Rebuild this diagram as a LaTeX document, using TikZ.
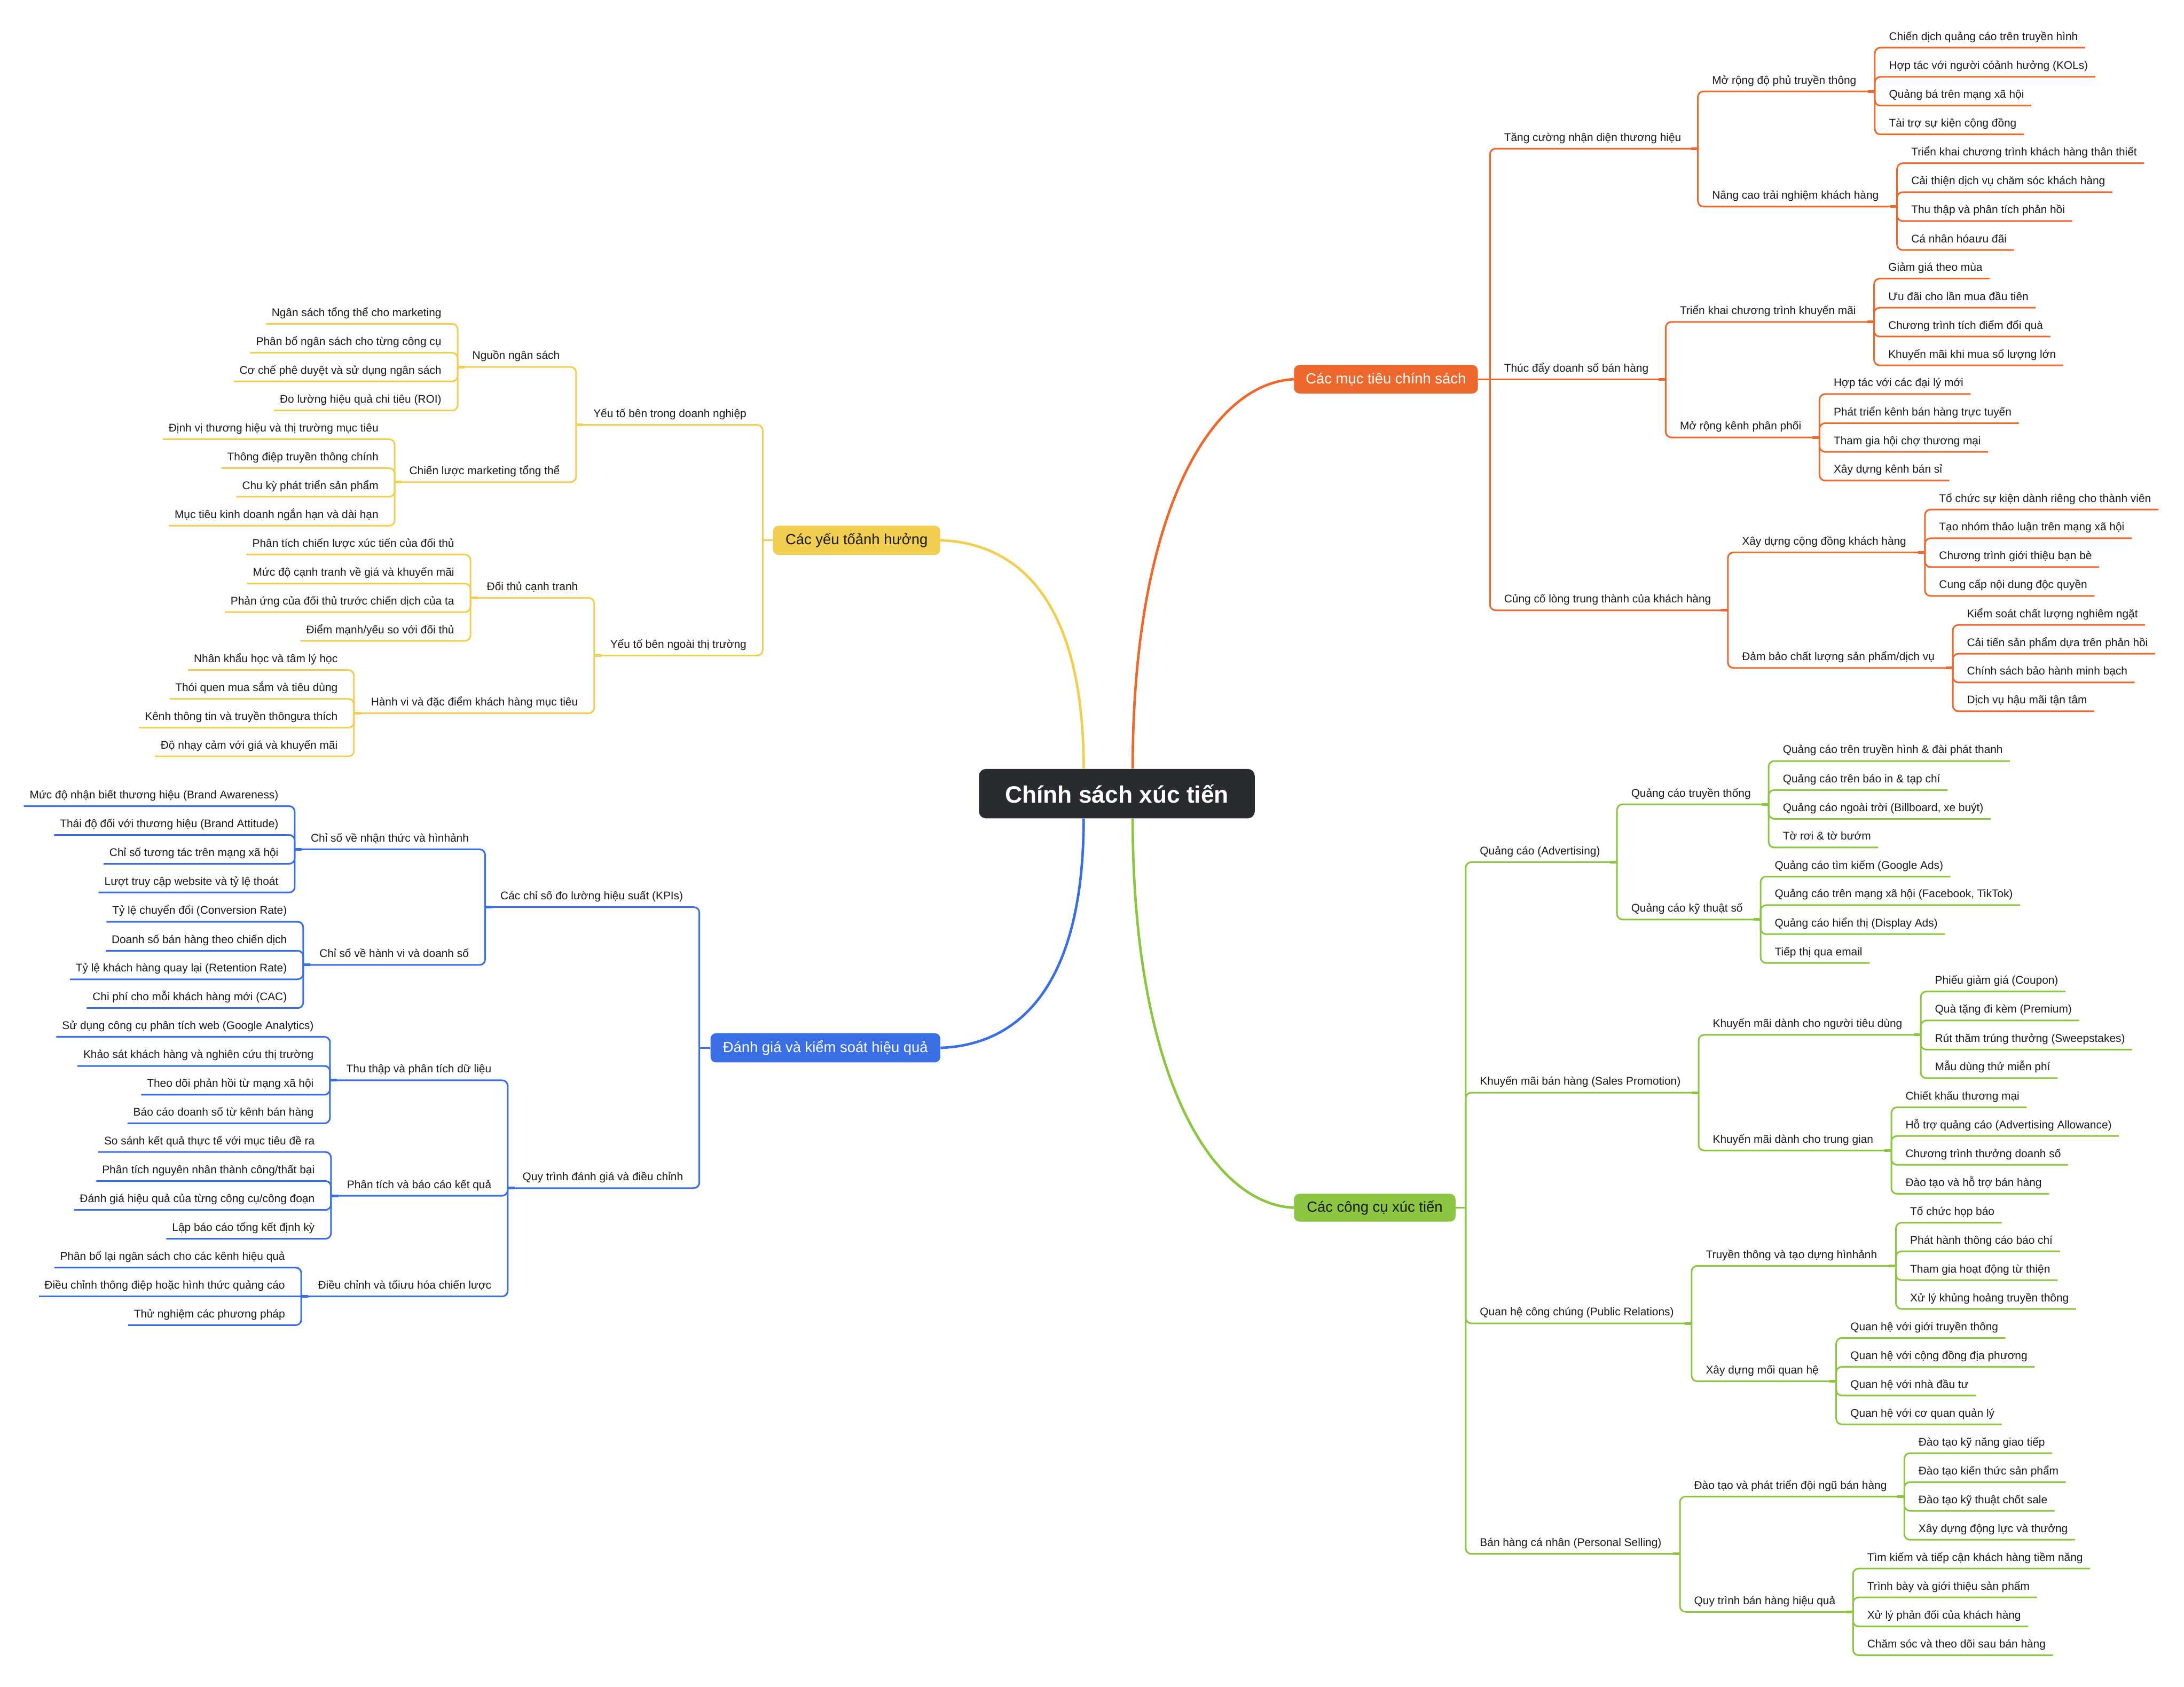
\documentclass[tikz,border=0pt]{standalone}
\usepackage{fontspec}
\setmainfont{Liberation Sans}
\setsansfont{Liberation Sans}
\usetikzlibrary{calc}
\definecolor{cor}{RGB}{238,104,46}
\definecolor{cye}{RGB}{242,206,80}
\definecolor{cbl}{RGB}{58,110,229}
\definecolor{cgr}{RGB}{140,197,64}
\definecolor{croot}{RGB}{42,43,47}
\definecolor{ctx}{RGB}{25,25,25}
\tikzset{
  lbl/.style={font=\fontsize{8}{9.6}\selectfont, inner sep=0pt, text=ctx},
  ul/.style={line width=1.15pt, rounded corners=4pt},
  knob/.style={line width=1.9pt},
  curve/.style={line width=1.8pt},
  box/.style={rounded corners=4pt, inner sep=0pt, font=\fontsize{10.5}{12}\selectfont},
}
% right-side parent: name, colour, parent junction, text x, y, end x, text
\newcommand\mmRP[7]{%
  \node[lbl, anchor=base west] (#1) at (#4,#5-5.4) {#7};
  \coordinate (#1-j) at (#6,#5);
  \draw[ul, draw=#2] (#3) |- (#1-j);
  \draw[knob, draw=#2] ([xshift=-5pt]#1-j) -- (#1-j);
}
% right-side leaf: name, colour, parent junction, text x, y, text
\newcommand\mmRL[6]{%
  \node[lbl, anchor=base west] (#1) at (#4,#5-5.4) {#6};
  \draw[ul, draw=#2] (#3) |- ([shift={(5pt,-5.4pt)}]#1.base east);
}
% left-side parent: name, colour, parent junction, text right x, y, left end x, text
\newcommand\mmLP[7]{%
  \node[lbl, anchor=base east] (#1) at (#4,#5-5.4) {#7};
  \coordinate (#1-j) at (#6,#5);
  \draw[ul, draw=#2] (#3) |- (#1-j);
  \draw[knob, draw=#2] ([xshift=5pt]#1-j) -- (#1-j);
}
% left-side leaf: name, colour, parent junction, text right x, y, text
\newcommand\mmLL[6]{%
  \node[lbl, anchor=base east] (#1) at (#4,#5-5.4) {#6};
  \draw[ul, draw=#2] (#3) |- ([shift={(-4pt,-5.4pt)}]#1.base west);
}
\begin{document}
\begin{tikzpicture}[x=1pt,y=-1pt]
\fill[white] (0,0) rectangle (1568,1211);
\useasboundingbox (0,0) rectangle (1568,1211);

% ---------- boxes ----------
\node[box, fill=croot, text=white, minimum width=198pt, minimum height=35.5pt,
      rounded corners=5pt, font=\fontsize{17}{20}\selectfont\bfseries] (root) at (801.85,569.75) {Chính sách xúc tiến};
\node[box, fill=cor, text=white, minimum width=132pt, minimum height=20.5pt] (ob) at (995,272.25) {Các mục tiêu chính sách};
\node[box, fill=cye, text=ctx, minimum width=120pt, minimum height=21pt] (yb) at (615,387.85) {Các yếu tốảnh hưởng};
\node[box, fill=cbl, text=white, minimum width=165pt, minimum height=21pt] (bb) at (592.6,752.2) {Đánh giá và kiểm soát hiệu quả};
\node[box, fill=cgr, text=ctx, minimum width=116pt, minimum height=20pt] (gb) at (987,867) {Các công cụ xúc tiến};

% ---------- main curves ----------
\draw[curve, draw=cye] (yb.east) .. controls +(55,2) and +(0,-122) .. ([xshift=-23.85pt]root.north);
\draw[curve, draw=cor] (ob.west) .. controls +(-61,3) and +(0,-180) .. ([xshift=11.35pt]root.north);
\draw[curve, draw=cbl] (bb.east) .. controls +(55,-2) and +(0,122) .. ([xshift=-23.85pt]root.south);
\draw[curve, draw=cgr] (gb.west) .. controls +(-61,-3) and +(0,180) .. ([xshift=11.35pt]root.south);

% ================= ORANGE =================
\coordinate (oj) at (1069.7,272.25);
\draw[ul, draw=cor] (ob.east) -- (oj);
\mmRP{o1}{cor}{oj}{1079.7}{106.7}{1219}{Tăng cường nhận diện thương hiệu}
\mmRP{o11}{cor}{o1-j}{1229}{65.6}{1346}{Mở rộng độ phủ truyền thông}
\mmRL{o111}{cor}{o11-j}{1356}{34.2}{Chiến dịch quảng cáo trên truyền hình}
\mmRL{o112}{cor}{o11-j}{1356}{55.2}{Hợp tác với người cóảnh hưởng (KOLs)}
\mmRL{o113}{cor}{o11-j}{1356}{75.8}{Quảng bá trên mạng xã hội}
\mmRL{o114}{cor}{o11-j}{1356}{96.5}{Tài trợ sự kiện cộng đồng}
\mmRP{o12}{cor}{o1-j}{1229}{148.3}{1362}{Nâng cao trải nghiệm khách hàng}
\mmRL{o121}{cor}{o12-j}{1372}{117.2}{Triển khai chương trình khách hàng thân thiết}
\mmRL{o122}{cor}{o12-j}{1372}{138}{Cải thiện dịch vụ chăm sóc khách hàng}
\mmRL{o123}{cor}{o12-j}{1372}{158.7}{Thu thập và phân tích phản hồi}
\mmRL{o124}{cor}{o12-j}{1372}{179.5}{Cá nhân hóaưu đãi}
% o2 on the same level as the junction
\node[lbl, anchor=base west] (o2) at (1079.7,272.25-5.4) {Thúc đẩy doanh số bán hàng};
\coordinate (o2-j) at (1195.9,272.25);
\draw[ul, draw=cor] (oj) -- (o2-j);
\draw[knob, draw=cor] ([xshift=-5pt]o2-j) -- (o2-j);
\mmRP{o21}{cor}{o2-j}{1205.9}{231.1}{1345.5}{Triển khai chương trình khuyến mãi}
\mmRL{o211}{cor}{o21-j}{1355.5}{200}{Giảm giá theo mùa}
\mmRL{o212}{cor}{o21-j}{1355.5}{220.9}{Ưu đãi cho lần mua đầu tiên}
\mmRL{o213}{cor}{o21-j}{1355.5}{241.6}{Chương trình tích điểm đổi quà}
\mmRL{o214}{cor}{o21-j}{1355.5}{262.3}{Khuyến mãi khi mua số lượng lớn}
\mmRP{o22}{cor}{o2-j}{1205.9}{314}{1306.3}{Mở rộng kênh phân phối}
\mmRL{o221}{cor}{o22-j}{1316.3}{282.9}{Hợp tác với các đại lý mới}
\mmRL{o222}{cor}{o22-j}{1316.3}{303.8}{Phát triển kênh bán hàng trực tuyến}
\mmRL{o223}{cor}{o22-j}{1316.3}{324.4}{Tham gia hội chợ thương mại}
\mmRL{o224}{cor}{o22-j}{1316.3}{345}{Xây dựng kênh bán sỉ}
\mmRP{o3}{cor}{oj}{1079.7}{438.1}{1240.5}{Củng cố lòng trung thành của khách hàng}
\mmRP{o31}{cor}{o3-j}{1250.5}{396.6}{1382}{Xây dựng cộng đồng khách hàng}
\mmRL{o311}{cor}{o31-j}{1392}{365.8}{Tổ chức sự kiện dành riêng cho thành viên}
\mmRL{o312}{cor}{o31-j}{1392}{386.4}{Tạo nhóm thảo luận trên mạng xã hội}
\mmRL{o313}{cor}{o31-j}{1392}{407.1}{Chương trình giới thiệu bạn bè}
\mmRL{o314}{cor}{o31-j}{1392}{427.8}{Cung cấp nội dung độc quyền}
\mmRP{o32}{cor}{o3-j}{1250.5}{479.5}{1402}{Đảm bảo chất lượng sản phẩm/dịch vụ}
\mmRL{o321}{cor}{o32-j}{1412}{448.6}{Kiểm soát chất lượng nghiêm ngặt}
\mmRL{o322}{cor}{o32-j}{1412}{469.3}{Cải tiến sản phẩm dựa trên phản hồi}
\mmRL{o323}{cor}{o32-j}{1412}{489.9}{Chính sách bảo hành minh bạch}
\mmRL{o324}{cor}{o32-j}{1412}{510.6}{Dịch vụ hậu mãi tận tâm}

% ================= GREEN =================
\coordinate (gj) at (1052.3,867);
\draw[ul, draw=cgr] (gb.east) -- (gj);
\mmRP{g1}{cgr}{gj}{1062.3}{618.9}{1160.9}{Quảng cáo (Advertising)}
\mmRP{g11}{cgr}{g1-j}{1170.9}{577.4}{1269.8}{Quảng cáo truyền thống}
\mmRL{g111}{cgr}{g11-j}{1279.8}{546.3}{Quảng cáo trên truyền hình \& đài phát thanh}
\mmRL{g112}{cgr}{g11-j}{1279.8}{567.1}{Quảng cáo trên báo in \& tạp chí}
\mmRL{g113}{cgr}{g11-j}{1279.8}{587.8}{Quảng cáo ngoài trời (Billboard, xe buýt)}
\mmRL{g114}{cgr}{g11-j}{1279.8}{608.4}{Tờ rơi \& tờ bướm}
\mmRP{g12}{cgr}{g1-j}{1170.9}{660.1}{1264}{Quảng cáo kỹ thuật số}
\mmRL{g121}{cgr}{g12-j}{1274}{629.2}{Quảng cáo tìm kiếm (Google Ads)}
\mmRL{g122}{cgr}{g12-j}{1274}{649.8}{Quảng cáo trên mạng xã hội (Facebook, TikTok)}
\mmRL{g123}{cgr}{g12-j}{1274}{670.6}{Quảng cáo hiển thị (Display Ads)}
\mmRL{g124}{cgr}{g12-j}{1274}{691.3}{Tiếp thị qua email}
\mmRP{g2}{cgr}{gj}{1062.3}{784.4}{1219.5}{Khuyến mãi bán hàng (Sales Promotion)}
\mmRP{g21}{cgr}{g2-j}{1229.5}{742.9}{1379}{Khuyến mãi dành cho người tiêu dùng}
\mmRL{g211}{cgr}{g21-j}{1389}{711.8}{Phiếu giảm giá (Coupon)}
\mmRL{g212}{cgr}{g21-j}{1389}{732.6}{Quà tặng đi kèm (Premium)}
\mmRL{g213}{cgr}{g21-j}{1389}{753.5}{Rút thăm trúng thưởng (Sweepstakes)}
\mmRL{g214}{cgr}{g21-j}{1389}{774}{Mẫu dùng thử miễn phí}
\mmRP{g22}{cgr}{g2-j}{1229.5}{825.9}{1357.9}{Khuyến mãi dành cho trung gian}
\mmRL{g221}{cgr}{g22-j}{1367.9}{794.9}{Chiết khấu thương mại}
\mmRL{g222}{cgr}{g22-j}{1367.9}{815.5}{Hỗ trợ quảng cáo (Advertising Allowance)}
\mmRL{g223}{cgr}{g22-j}{1367.9}{836.2}{Chương trình thưởng doanh số}
\mmRL{g224}{cgr}{g22-j}{1367.9}{857}{Đào tạo và hỗ trợ bán hàng}
\mmRP{g3}{cgr}{gj}{1062.3}{950}{1214.5}{Quan hệ công chúng (Public Relations)}
\mmRP{g31}{cgr}{g3-j}{1224.5}{908.7}{1361.2}{Truyền thông và tạo dựng hìnhảnh}
\mmRL{g311}{cgr}{g31-j}{1371.2}{877.7}{Tổ chức họp báo}
\mmRL{g312}{cgr}{g31-j}{1371.2}{898.3}{Phát hành thông cáo báo chí}
\mmRL{g313}{cgr}{g31-j}{1371.2}{919}{Tham gia hoạt động từ thiện}
\mmRL{g314}{cgr}{g31-j}{1371.2}{939.7}{Xử lý khủng hoảng truyền thông}
\mmRP{g32}{cgr}{g3-j}{1224.5}{991.6}{1318.3}{Xây dựng mối quan hệ}
\mmRL{g321}{cgr}{g32-j}{1328.3}{960.5}{Quan hệ với giới truyền thông}
\mmRL{g322}{cgr}{g32-j}{1328.3}{981.2}{Quan hệ với cộng đồng địa phương}
\mmRL{g323}{cgr}{g32-j}{1328.3}{1001.8}{Quan hệ với nhà đầu tư}
\mmRL{g324}{cgr}{g32-j}{1328.3}{1022.5}{Quan hệ với cơ quan quản lý}
\mmRP{g4}{cgr}{gj}{1062.3}{1115.5}{1206.1}{Bán hàng cá nhân (Personal Selling)}
\mmRP{g41}{cgr}{g4-j}{1216.1}{1074.3}{1367.2}{Đào tạo và phát triển đội ngũ bán hàng}
\mmRL{g411}{cgr}{g41-j}{1377.2}{1043.2}{Đào tạo kỹ năng giao tiếp}
\mmRL{g412}{cgr}{g41-j}{1377.2}{1064}{Đào tạo kiến thức sản phẩm}
\mmRL{g413}{cgr}{g41-j}{1377.2}{1084.6}{Đào tạo kỹ thuật chốt sale}
\mmRL{g414}{cgr}{g41-j}{1377.2}{1105.3}{Xây dựng động lực và thưởng}
\mmRP{g42}{cgr}{g4-j}{1216.1}{1157.1}{1330.4}{Quy trình bán hàng hiệu quả}
\mmRL{g421}{cgr}{g42-j}{1340.4}{1126}{Tìm kiếm và tiếp cận khách hàng tiềm năng}
\mmRL{g422}{cgr}{g42-j}{1340.4}{1146.7}{Trình bày và giới thiệu sản phẩm}
\mmRL{g423}{cgr}{g42-j}{1340.4}{1167.6}{Xử lý phản đối của khách hàng}
\mmRL{g424}{cgr}{g42-j}{1340.4}{1188.3}{Chăm sóc và theo dõi sau bán hàng}

% ================= YELLOW =================
\coordinate (yj) at (547.6,387.85);
\draw[ul, draw=cye] (yb.west) -- (yj);
\mmLP{y1}{cye}{yj}{536.1}{305}{413.6}{Yếu tố bên trong doanh nghiệp}
\mmLP{y11}{cye}{y1-j}{402.1}{263.4}{328.6}{Nguồn ngân sách}
\mmLL{y111}{cye}{y11-j}{317.1}{232.5}{Ngân sách tổng thể cho marketing}
\mmLL{y112}{cye}{y11-j}{317.1}{253.2}{Phân bổ ngân sách cho từng công cụ}
\mmLL{y113}{cye}{y11-j}{317.1}{273.8}{Cơ chế phê duyệt và sử dụng ngân sách}
\mmLL{y114}{cye}{y11-j}{317.1}{294.7}{Đo lường hiệu quả chi tiêu (ROI)}
\mmLP{y12}{cye}{y1-j}{402.1}{346.1}{283.4}{Chiến lược marketing tổng thể}
\mmLL{y121}{cye}{y12-j}{271.9}{315.3}{Định vị thương hiệu và thị trường mục tiêu}
\mmLL{y122}{cye}{y12-j}{271.9}{336.1}{Thông điệp truyền thông chính}
\mmLL{y123}{cye}{y12-j}{271.9}{356.6}{Chu kỳ phát triển sản phẩm}
\mmLL{y124}{cye}{y12-j}{271.9}{377.4}{Mục tiêu kinh doanh ngắn hạn và dài hạn}
\mmLP{y2}{cye}{yj}{536.1}{470.6}{426.6}{Yếu tố bên ngoài thị trường}
\mmLP{y21}{cye}{y2-j}{415.1}{429.2}{337.8}{Đối thủ cạnh tranh}
\mmLL{y211}{cye}{y21-j}{326.3}{398.1}{Phân tích chiến lược xúc tiến của đối thủ}
\mmLL{y212}{cye}{y21-j}{326.3}{419}{Mức độ cạnh tranh về giá và khuyến mãi}
\mmLL{y213}{cye}{y21-j}{326.3}{439.4}{Phản ứng của đối thủ trước chiến dịch của ta}
\mmLL{y214}{cye}{y21-j}{326.3}{460.1}{Điểm mạnh/yếu so với đối thủ}
\mmLP{y22}{cye}{y2-j}{415.1}{512}{254.1}{Hành vi và đặc điểm khách hàng mục tiêu}
\mmLL{y221}{cye}{y22-j}{242.6}{481}{Nhân khẩu học và tâm lý học}
\mmLL{y222}{cye}{y22-j}{242.6}{501.7}{Thói quen mua sắm và tiêu dùng}
\mmLL{y223}{cye}{y22-j}{242.6}{522.4}{Kênh thông tin và truyền thôngưa thích}
\mmLL{y224}{cye}{y22-j}{242.6}{543}{Độ nhạy cảm với giá và khuyến mãi}

% ================= BLUE =================
\coordinate (bj) at (502.1,752.2);
\draw[ul, draw=cbl] (bb.west) -- (bj);
\mmLP{b1}{cbl}{bj}{490.6}{651.2}{348.3}{Các chỉ số đo lường hiệu suất (KPIs)}
\mmLP{b11}{cbl}{b1-j}{336.8}{609.7}{211.6}{Chỉ số về nhận thức và hìnhảnh}
\mmLL{b111}{cbl}{b11-j}{200.1}{578.7}{Mức độ nhận biết thương hiệu (Brand Awareness)}
\mmLL{b112}{cbl}{b11-j}{200.1}{599.4}{Thái độ đối với thương hiệu (Brand Attitude)}
\mmLL{b113}{cbl}{b11-j}{200.1}{620.1}{Chỉ số tương tác trên mạng xã hội}
\mmLL{b114}{cbl}{b11-j}{200.1}{640.7}{Lượt truy cập website và tỷ lệ thoát}
\mmLP{b12}{cbl}{b1-j}{336.8}{692.7}{217.7}{Chỉ số về hành vi và doanh số}
\mmLL{b121}{cbl}{b12-j}{206.2}{661.7}{Tỷ lệ chuyển đổi (Conversion Rate)}
\mmLL{b122}{cbl}{b12-j}{206.2}{682.5}{Doanh số bán hàng theo chiến dịch}
\mmLL{b123}{cbl}{b12-j}{206.2}{703}{Tỷ lệ khách hàng quay lại (Retention Rate)}
\mmLL{b124}{cbl}{b12-j}{206.2}{723.7}{Chi phí cho mỗi khách hàng mới (CAC)}
\mmLP{b2}{cbl}{bj}{490.6}{852.9}{364.5}{Quy trình đánh giá và điều chỉnh}
\mmLP{b21}{cbl}{b2-j}{353}{775.5}{236.9}{Thu thập và phân tích dữ liệu}
\mmLL{b211}{cbl}{b21-j}{225.4}{744.3}{Sử dụng công cụ phân tích web (Google Analytics)}
\mmLL{b212}{cbl}{b21-j}{225.4}{765.2}{Khảo sát khách hàng và nghiên cứu thị trường}
\mmLL{b213}{cbl}{b21-j}{225.4}{785.9}{Theo dõi phản hồi từ mạng xã hội}
\mmLL{b214}{cbl}{b21-j}{225.4}{806.4}{Báo cáo doanh số từ kênh bán hàng}
\mmLP{b22}{cbl}{b2-j}{353}{858.4}{237.6}{Phân tích và báo cáo kết quả}
\mmLL{b221}{cbl}{b22-j}{226.1}{827}{So sánh kết quả thực tế với mục tiêu đề ra}
\mmLL{b222}{cbl}{b22-j}{226.1}{847.8}{Phân tích nguyên nhân thành công/thất bại}
\mmLL{b223}{cbl}{b22-j}{226.1}{868.6}{Đánh giá hiệu quả của từng công cụ/công đoạn}
\mmLL{b224}{cbl}{b22-j}{226.1}{889.3}{Lập báo cáo tổng kết định kỳ}
\mmLP{b23}{cbl}{b2-j}{353}{930.7}{216.3}{Điều chỉnh và tốiưu hóa chiến lược}
\mmLL{b231}{cbl}{b23-j}{204.8}{910}{Phân bổ lại ngân sách cho các kênh hiệu quả}
\node[lbl, anchor=base east] (b232) at (204.8,930.7-5.4) {Điều chỉnh thông điệp hoặc hình thức quảng cáo};
\draw[ul, draw=cbl] (b23-j) -- ([shift={(-4pt,-5.4pt)}]b232.base west);
\mmLL{b233}{cbl}{b23-j}{204.8}{951.3}{Thử nghiệm các phương pháp}
\end{tikzpicture}
\end{document}
